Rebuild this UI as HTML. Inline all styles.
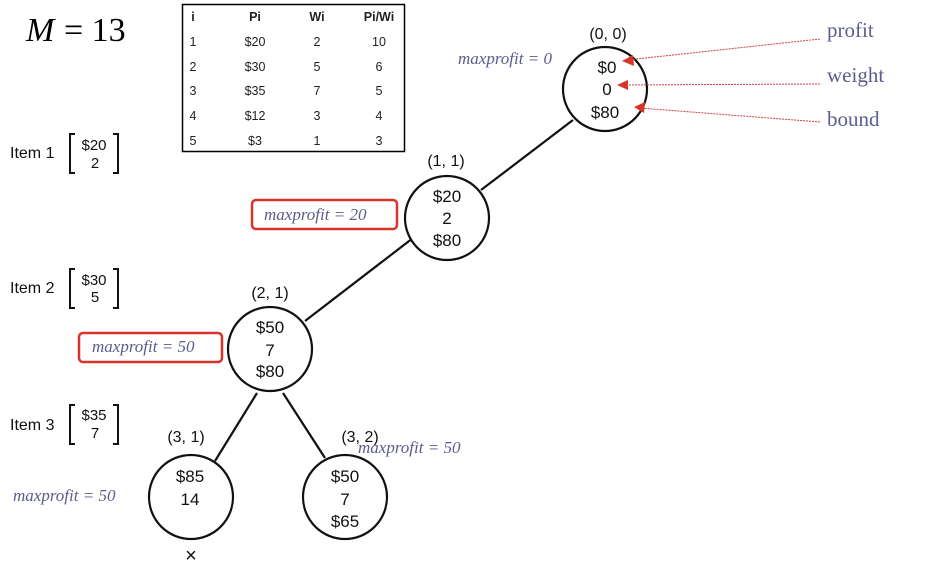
<!DOCTYPE html>
<html><head><style>
body{margin:0;background:#fff;}
.s{font-family:"Liberation Sans",sans-serif;}
.p{fill:#5c5c8e;font-family:"Liberation Serif",serif;font-style:italic;font-size:17px;}
.n{font-family:"Liberation Sans",sans-serif;font-size:17px;text-anchor:middle;fill:#111;}
.h{font-family:"Liberation Sans",sans-serif;font-size:16px;text-anchor:middle;fill:#111;}
.t{font-family:"Liberation Sans",sans-serif;font-size:12.5px;fill:#222;text-anchor:middle;}
.r{fill:#5c5c8e;font-family:"Liberation Serif",serif;font-size:21px;}
.m{font-family:"Liberation Serif",serif;font-size:34px;fill:#000;}
</style></head><body>
<svg width="942" height="564" viewBox="0 0 942 564" xmlns="http://www.w3.org/2000/svg">
<rect width="942" height="564" fill="#fff"/>
<text x="26" y="41" class="m" style="font-style:italic">M</text>
<text x="64" y="41" class="m">= 13</text>
<rect x="182.5" y="4.5" width="222" height="147" fill="#fff" stroke="#000" stroke-width="1.5"/>
<g class="t">
<text x="193" y="21" font-weight="bold">i</text><text x="255" y="21" font-weight="bold">Pi</text><text x="317" y="21" font-weight="bold">Wi</text><text x="379" y="21" font-weight="bold">Pi/Wi</text>
<text x="193" y="46">1</text><text x="255" y="46">$20</text><text x="317" y="46">2</text><text x="379" y="46">10</text>
<text x="193" y="71">2</text><text x="255" y="71">$30</text><text x="317" y="71">5</text><text x="379" y="71">6</text>
<text x="193" y="95">3</text><text x="255" y="95">$35</text><text x="317" y="95">7</text><text x="379" y="95">5</text>
<text x="193" y="120">4</text><text x="255" y="120">$12</text><text x="317" y="120">3</text><text x="379" y="120">4</text>
<text x="193" y="145">5</text><text x="255" y="145">$3</text><text x="317" y="145">1</text><text x="379" y="145">3</text>
</g>
<g class="s" font-size="16" fill="#111">
<text x="10" y="158">Item 1</text><text x="10" y="293">Item 2</text><text x="10" y="430">Item 3</text>
</g>
<g fill="none" stroke="#111" stroke-width="2">
<path d="M75 134h-5v39h5M113 134h5v39h-5"/>
<path d="M75 269h-5v39h5M113 269h5v39h-5"/>
<path d="M75 405h-5v39h5M113 405h5v39h-5"/>
</g>
<g class="h" style="font-size:15px">
<text x="94" y="150">$20</text><text x="95" y="168">2</text>
<text x="94" y="285">$30</text><text x="95" y="302">5</text>
<text x="94" y="420">$35</text><text x="95" y="438">7</text>
</g>
<g stroke="#111" stroke-width="2.2">
<line x1="573" y1="120" x2="481" y2="190"/>
<line x1="413" y1="238" x2="305" y2="321"/>
<line x1="257" y1="393" x2="215" y2="461"/>
<line x1="283" y1="393" x2="325" y2="458"/>
</g>
<g fill="#fff" stroke="#111" stroke-width="2.2">
<circle cx="605" cy="89" r="42"/>
<circle cx="447" cy="218" r="42"/>
<circle cx="270" cy="349" r="42"/>
<circle cx="191" cy="497" r="42"/>
<circle cx="345" cy="497" r="42"/>
</g>
<g class="h">
<text x="608" y="39">(0, 0)</text><text x="446" y="166">(1, 1)</text><text x="270" y="298">(2, 1)</text>
<text x="186" y="442">(3, 1)</text><text x="360" y="442">(3, 2)</text>
</g>
<g class="n">
<text x="607" y="73">$0</text><text x="607" y="95">0</text><text x="605" y="118">$80</text>
<text x="447" y="202">$20</text><text x="447" y="224">2</text><text x="447" y="246">$80</text>
<text x="270" y="333">$50</text><text x="270" y="356">7</text><text x="270" y="377">$80</text>
<text x="190" y="482">$85</text><text x="190" y="505">14</text>
<text x="345" y="482">$50</text><text x="345" y="505">7</text><text x="345" y="527">$65</text>
</g>
<text x="191" y="562" class="n" style="font-size:20px">×</text>
<text x="458" y="64" class="p">maxprofit = 0</text>
<rect x="252" y="200" width="145" height="29" rx="4" fill="none" stroke="#d9342b" stroke-width="2.5"/>
<text x="264" y="220" class="p">maxprofit = 20</text>
<rect x="79" y="333" width="143" height="29" rx="4" fill="none" stroke="#d9342b" stroke-width="2.5"/>
<text x="92" y="352" class="p">maxprofit = 50</text>
<text x="13" y="501" class="p">maxprofit = 50</text>
<text x="358" y="453" class="p">maxprofit = 50</text>
<g stroke="#d04040" stroke-width="1" stroke-dasharray="2,1">
<line x1="820" y1="39" x2="627" y2="60"/>
<line x1="820" y1="84" x2="622" y2="85"/>
<line x1="820" y1="122" x2="640" y2="108"/>
</g>
<g fill="#d9342b">
<polygon points="622,61 633,55 634,66"/>
<polygon points="617,85 628,80 628,90"/>
<polygon points="634,107 645,102 644,113"/>
</g>
<text x="827" y="37" class="r">profit</text>
<text x="827" y="82" class="r">weight</text>
<text x="827" y="126" class="r">bound</text>
</svg>
</body></html>
